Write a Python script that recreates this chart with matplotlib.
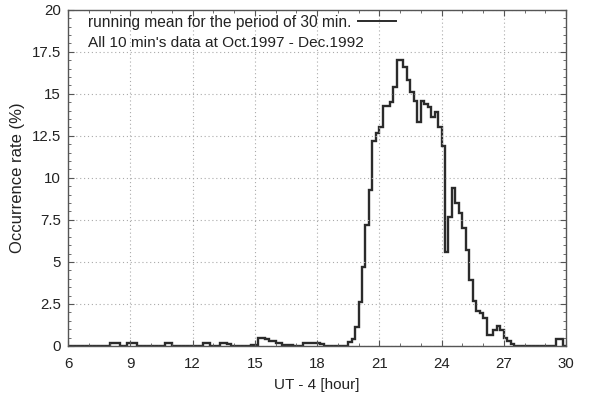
import numpy as np
import matplotlib
matplotlib.use("Agg")
from matplotlib import pyplot as plt
from matplotlib.ticker import MultipleLocator, FuncFormatter

plt.rcParams['font.family'] = ['Liberation Sans', 'DejaVu Sans']

# occurrence rate (%) in 10 min bins, one row per hour, 6 h ... 29 h
rate_by_hour = [
    [0, 0, 0, 0, 0, 0],                       # 6
    [0, 0, 0, 0, 0, 0],                       # 7
    [0.15, 0.2, 0.2, 0, 0, 0.2],              # 8
    [0.2, 0.15, 0, 0, 0, 0],                  # 9
    [0, 0, 0, 0, 0.15, 0.15],                 # 10
    [0, 0, 0, 0, 0, 0],                       # 11
    [0, 0, 0, 0.2, 0.15, 0],                  # 12
    [0, 0, 0.15, 0.2, 0.1, 0],                # 13
    [0, 0, 0, 0, 0, 0.05],                    # 14
    [0.05, 0.5, 0.45, 0.4, 0.3, 0.3],         # 15
    [0.15, 0.15, 0.05, 0.05, 0.05, 0],        # 16
    [0, 0, 0.15, 0.15, 0.15, 0.15],           # 17
    [0.15, 0.1, 0, 0, 0, 0],                  # 18
    [0, 0, 0, 0.25, 0.4, 1.1],                # 19
    [2.6, 4.7, 7.2, 9.3, 12.2, 12.7],         # 20
    [13.0, 14.3, 14.3, 14.5, 15.4, 17.0],     # 21
    [17.0, 16.6, 15.8, 15.1, 14.6, 13.3],     # 22
    [14.6, 14.4, 14.2, 13.6, 13.9, 13.0],     # 23
    [11.9, 5.6, 7.7, 9.4, 8.5, 7.9],          # 24
    [7.0, 5.7, 3.9, 2.7, 2.1, 1.95],          # 25
    [1.65, 0.65, 0.65, 0.95, 1.2, 0.95],      # 26
    [0.5, 0.3, 0.1, 0, 0, 0],                 # 27
    [0, 0, 0, 0, 0, 0],                       # 28
    [0, 0, 0, 0.4, 0.4, 0],                   # 29
]
start_hour = 6
bins_per_hour = 6

legend_label = "running mean for the period of 30 min."
note_text = "All 10 min's data at Oct.1997 - Dec.1992"
x_label = "UT - 4 [hour]"
y_label = "Occurrence rate (%)"

rate = np.array(rate_by_hour).ravel()
edges = start_hour + np.arange(len(rate) + 1) / bins_per_hour

fig = plt.figure(figsize=(5.9, 3.94), dpi=100)
ax = fig.add_axes([0.1153, 0.122, 0.8441, 0.853])

ax.stairs(rate, edges, color='#2b2b2b', lw=1.7, label=legend_label)

ax.set_xlim(6, 30)
ax.set_ylim(0, 20)
ax.xaxis.set_major_locator(MultipleLocator(3))
ax.xaxis.set_minor_locator(MultipleLocator(1))
ax.yaxis.set_major_locator(MultipleLocator(2.5))
ax.yaxis.set_minor_locator(MultipleLocator(0.5))
ax.yaxis.set_major_formatter(FuncFormatter(lambda v, p: '{:g}'.format(v)))

ax.tick_params(which='both', direction='in', top=True, right=True,
               colors='#555555', labelcolor='#222222', labelsize=10.8)
ax.tick_params(which='major', length=4, width=0.8)
ax.tick_params(which='minor', length=2, width=0.6)
ax.tick_params(axis='x', pad=8)
ax.tick_params(axis='y', pad=5)
for s in ax.spines.values():
    s.set_color('#555555')
    s.set_linewidth(1.0)

ax.grid(True, which='major', linestyle=(0, (1, 2.5)), color='#aaaaaa', lw=0.8)

ax.set_xlabel(x_label, fontsize=11, color='#222222', labelpad=5)
ax.set_ylabel(y_label, fontsize=12, color='#222222', labelpad=5)

leg = ax.legend(loc='upper left', bbox_to_anchor=(0.03, 1.0), frameon=False,
                markerfirst=False, handlelength=2.45, handletextpad=0.45,
                fontsize=11.2, borderaxespad=0, borderpad=0.3)
for t in leg.get_texts():
    t.set_color('#222222')
leg.get_lines()[0].set_linewidth(1.4)

# line the note up with the legend text
fig.canvas.draw()
bb = leg.get_texts()[0].get_window_extent()
x0 = ax.transAxes.inverted().transform((bb.x0, bb.y0))[0]
ax.text(x0, 0.902, note_text, transform=ax.transAxes, fontsize=11.1,
        color='#222222', va='center', ha='left')

fig.savefig('out.png', dpi=100)
